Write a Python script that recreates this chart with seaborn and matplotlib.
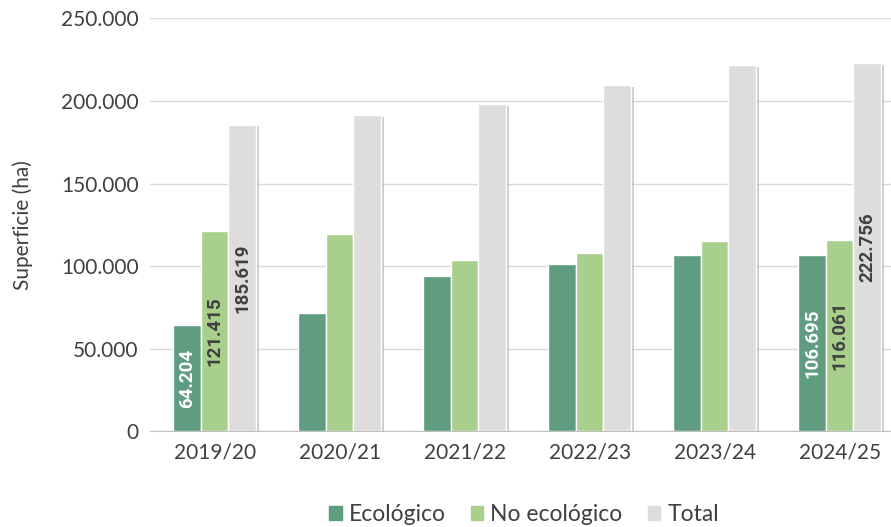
import matplotlib
matplotlib.use("Agg")
import matplotlib.pyplot as plt
import matplotlib.patheffects as pe
import seaborn as sns
import pandas as pd

# Superficie por campaña (ha)
campanas = ["2019/20", "2020/21", "2021/22", "2022/23", "2023/24", "2024/25"]
ecologico = [64204, 71400, 93800, 101100, 106500, 106695]
no_ecologico = [121415, 119200, 103500, 107700, 115000, 116061]
total = [185619, 191300, 197900, 209400, 221500, 222756]
series = ["Ecológico", "No ecológico", "Total"]
colores = ["#5f9c80", "#a8d08c", "#dddddd"]
# solo se etiquetan la primera y la última campaña
etiquetadas = ["2019/20", "2024/25"]


def fmt(v):
    return f"{v:,.0f}".replace(",", ".")


df = pd.DataFrame({
    "campana": campanas * 3,
    "serie": [s for s in series for _ in campanas],
    "valor": ecologico + no_ecologico + total,
})

sns.set_style("white")
plt.rcParams["font.family"] = ["Lato", "DejaVu Sans"]

fig, ax = plt.subplots(figsize=(8.91, 5.27), dpi=100)
fig.subplots_adjust(left=0.168, right=1.0, top=0.965, bottom=0.182)

sns.barplot(data=df, x="campana", y="valor", hue="serie", palette=colores,
            width=0.66, saturation=1, ax=ax, zorder=3, legend=False)

shadow = [pe.withSimplePatchShadow(offset=(2.5, -1), shadow_rgbFace="#9a9a9a", alpha=0.5)]
for bar in ax.patches:
    bar.set_path_effects(shadow)

for cont, s in zip(ax.containers, series):
    labels = []
    for c, bar in zip(campanas, cont):
        labels.append(fmt(bar.get_height()) if c in etiquetadas else "")
    ax.bar_label(cont, labels=labels, label_type="center", rotation=90,
                 fontsize=13.5, fontweight="bold", family=["Roboto", "DejaVu Sans"],
                 color="white" if s == "Ecológico" else "#404040")

ax.set_ylim(0, 250000)
ax.set_xlim(-0.52, 5.41)
ax.set_yticks(range(0, 250001, 50000))
ax.set_yticklabels([fmt(v) for v in range(0, 250001, 50000)])
ax.yaxis.grid(True, color="#d9d9d9", linewidth=1, zorder=0)
ax.set_axisbelow(True)
for sp in ["left", "right", "top"]:
    ax.spines[sp].set_visible(False)
ax.spines["bottom"].set_color("#bfbfbf")
ax.tick_params(axis="both", length=0, labelsize=15, colors="#404040", pad=8)
ax.set_xlabel("")
ax.set_ylabel("Superficie (ha)", fontsize=15, color="#404040", labelpad=20)

handles = [plt.Rectangle((0, 0), 1, 1, color=c) for c in colores]
fig.legend(handles, series, loc="lower center", bbox_to_anchor=(0.588, -0.035), ncol=3,
           frameon=False, fontsize=16.5, handlelength=0.55, handleheight=0.55,
           handletextpad=0.3, columnspacing=1.1, labelcolor="#404040")

fig.savefig("out.png", dpi=100)
